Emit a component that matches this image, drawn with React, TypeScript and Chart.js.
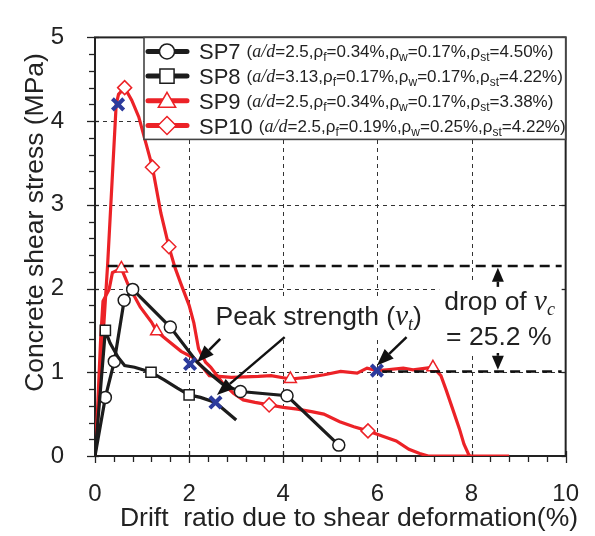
import React, { useEffect, useRef } from 'react';
import { Chart, registerables } from 'chart.js';

Chart.register(...registerables);

const FONT = '"Liberation Sans", Arial, Helvetica, sans-serif';
const SERIF = '"Liberation Serif", "Times New Roman", serif';
const RED = '#ec2227';
const BLACK = '#1c1c1c';
const BLUE = '#2c3b9d';

// ---- Series data (drift ratio %, shear stress MPa) ----
const sp7X = [0, 0.22, 0.41, 0.62, 0.8, 1.6, 2.17, 2.45, 2.73, 3.09, 4.08, 5.18];
const sp7Y = [0, 0.7, 1.13, 1.86, 1.99, 1.54, 1.12, 0.98, 0.85, 0.77, 0.72, 0.13];
const sp7Markers = [1, 2, 3, 4, 5, 9, 10, 11];

const sp8X = [0, 0.22, 0.32, 0.49, 0.63, 0.84, 1.19, 1.47, 1.75, 2.0, 2.24, 2.56, 3.0];
const sp8Y = [0, 1.5, 1.35, 1.18, 1.08, 1.06, 1.0, 0.91, 0.81, 0.73, 0.7, 0.64, 0.43];
const sp8Markers = [1, 6, 9];

const sp9X = [0, 0.05, 0.12, 0.17, 0.3, 0.37, 0.56, 0.7, 0.96, 1.2, 1.31, 1.5, 1.83, 2.1, 2.3, 2.43, 2.9, 3.47, 3.74, 4.15, 4.52, 4.87, 5.22, 5.57, 5.78, 6.0, 6.2, 6.55, 6.76, 7.04, 7.18, 7.35, 7.46, 7.6, 7.74, 7.84, 7.93, 7.96];
const sp9Y = [0, 0.5, 1.4, 1.85, 1.99, 2.19, 2.24, 2.05, 1.78, 1.6, 1.49, 1.4, 1.25, 1.17, 1.05, 0.96, 0.94, 0.95, 0.96, 0.92, 0.94, 0.97, 1.01, 0.99, 1.05, 1.02, 1.03, 1.05, 1.03, 1.05, 1.06, 0.96, 0.79, 0.56, 0.33, 0.14, 0.03, 0];
const sp9Markers = [6, 10, 19, 30];

const sp10X = [0, 0.1, 0.27, 0.45, 0.5, 0.63, 0.78, 0.93, 1.22, 1.4, 1.57, 1.7, 1.83, 2.0, 2.1, 2.2, 2.35, 2.46, 2.7, 2.94, 3.15, 3.4, 3.7, 4.0, 4.3, 4.6, 4.86, 5.2, 5.5, 5.8, 6.1, 6.4, 6.67, 6.9, 7.08, 8.8];
const sp10Y = [0, 0.8, 2.3, 4.2, 4.32, 4.4, 4.25, 4.05, 3.45, 2.9, 2.5, 2.25, 2.05, 1.8, 1.59, 1.28, 1.12, 1.06, 0.88, 0.75, 0.67, 0.64, 0.61, 0.58, 0.56, 0.53, 0.5, 0.41, 0.35, 0.3, 0.24, 0.18, 0.08, 0.03, 0, 0];
const sp10Markers = [5, 8, 10, 22, 29];

// Peak strength points (blue crosses)
const peakX = [0.49, 2.02, 2.56, 5.99];
const peakY = [4.2, 1.1, 0.64, 1.02];

// Axis ticks
const xTicks = [0, 2, 4, 6, 8, 10];
const yTicks = [0, 1, 2, 3, 4, 5];
const xGrid = [2, 4, 6, 8];
const yGrid = [1, 2, 3, 4];

// Legend content
const seriesNames = ['SP7', 'SP8', 'SP9', 'SP10'];
const seriesColors = [BLACK, BLACK, RED, RED];
const seriesStyles = ['circle', 'rect', 'triangle', 'rectRot'];
const adRatio = ['2.5', '3.13', '2.5', '2.5'];
const rhoF = ['0.34', '0.17', '0.34', '0.19'];
const rhoW = ['0.17', '0.17', '0.17', '0.25'];
const rhoSt = ['4.50', '4.22', '3.38', '4.22'];

// Annotations
const vcPeakLevel = 2.27;
const vcPeakStart = 0.27;
const vcDropLevel = 1.01;
const vcDropStart = 6.1;
const dropArrowX = 8.56;
const dropArrowUp = [2.02, 2.25];
const dropArrowDown = [1.23, 1.03];
const peakArrowTails = [[2.66, 1.4], [4.03, 1.42], [6.62, 1.42]];
const peakArrowTips = [[2.17, 1.12], [2.59, 0.73], [5.99, 1.08]];
const peakLabelPos = [2.56, 1.57];
const dropLabelPos = [7.42, 1.74];
const dropValuePos = [7.46, 1.32];
const dropValueText = '= 25.2 %';

type Seg = { t: string; f: string; dy?: number };

function segWidth(ctx: CanvasRenderingContext2D, segs: Seg[]) {
  let w = 0;
  for (const s of segs) {
    ctx.font = s.f;
    w += ctx.measureText(s.t).width;
  }
  return w;
}

function drawSegs(ctx: CanvasRenderingContext2D, x: number, y: number, segs: Seg[]) {
  let cx = x;
  ctx.textBaseline = 'alphabetic';
  ctx.textAlign = 'left';
  for (const s of segs) {
    ctx.font = s.f;
    ctx.fillText(s.t, cx, y + (s.dy || 0));
    cx += ctx.measureText(s.t).width;
  }
  return cx - x;
}

function arrow(ctx: CanvasRenderingContext2D, x1: number, y1: number, x2: number, y2: number, head: number, half: number) {
  const a = Math.atan2(y2 - y1, x2 - x1);
  const bx = x2 - head * Math.cos(a);
  const by = y2 - head * Math.sin(a);
  ctx.beginPath();
  ctx.moveTo(x1, y1);
  ctx.lineTo(bx, by);
  ctx.stroke();
  ctx.beginPath();
  ctx.moveTo(x2, y2);
  ctx.lineTo(bx + half * Math.sin(a), by - half * Math.cos(a));
  ctx.lineTo(bx - half * Math.sin(a), by + half * Math.cos(a));
  ctx.closePath();
  ctx.fill();
}

function marker(ctx: CanvasRenderingContext2D, style: string, x: number, y: number, r: number) {
  ctx.beginPath();
  if (style === 'circle') {
    ctx.arc(x, y, r, 0, Math.PI * 2);
  } else if (style === 'rect') {
    const s = r / Math.SQRT2;
    ctx.rect(x - s, y - s, 2 * s, 2 * s);
  } else if (style === 'triangle') {
    for (let k = 0; k < 3; k++) {
      const a = (k * 2 * Math.PI) / 3;
      const vx = x + Math.sin(a) * r;
      const vy = y - Math.cos(a) * r;
      if (k === 0) ctx.moveTo(vx, vy);
      else ctx.lineTo(vx, vy);
    }
    ctx.closePath();
  } else {
    ctx.moveTo(x, y - r);
    ctx.lineTo(x + r, y);
    ctx.lineTo(x, y + r);
    ctx.lineTo(x - r, y);
    ctx.closePath();
  }
  ctx.fill();
  ctx.stroke();
}

const peakSegs: Seg[] = [
  { t: 'Peak strength (', f: `26.5px ${FONT}` },
  { t: 'ν', f: `italic 29px ${SERIF}` },
  { t: 't', f: `italic 18px ${SERIF}`, dy: 5 },
  { t: ')', f: `26.5px ${FONT}` },
];
const dropSegs: Seg[] = [
  { t: 'drop of ', f: `26.5px ${FONT}` },
  { t: 'ν', f: `italic 29px ${SERIF}` },
  { t: 'c', f: `italic 18px ${SERIF}`, dy: 5 },
];
const dropValueSegs: Seg[] = [{ t: dropValueText, f: `26.5px ${FONT}` }];

const decorPlugin = {
  id: 'decor',
  beforeDatasetsDraw(chart: any) {
    const ctx: CanvasRenderingContext2D = chart.ctx;
    const xs = chart.scales.x;
    const ys = chart.scales.y;
    const px = (v: number) => xs.getPixelForValue(v);
    const py = (v: number) => ys.getPixelForValue(v);
    const ca = chart.chartArea;
    ctx.save();
    // thin dashed grid
    ctx.strokeStyle = '#333';
    ctx.lineWidth = 1;
    ctx.setLineDash([4, 4]);
    for (const g of xGrid) {
      ctx.beginPath();
      ctx.moveTo(Math.round(px(g)) + 0.5, ca.bottom);
      ctx.lineTo(Math.round(px(g)) + 0.5, ca.top);
      ctx.stroke();
    }
    for (const g of yGrid) {
      ctx.beginPath();
      ctx.moveTo(ca.left, Math.round(py(g)) + 0.5);
      ctx.lineTo(ca.right, Math.round(py(g)) + 0.5);
      ctx.stroke();
    }
    ctx.setLineDash([]);
    // white boxes behind annotation texts
    ctx.fillStyle = '#fff';
    const pw = segWidth(ctx, peakSegs);
    const pX = px(peakLabelPos[0]);
    const pY = py(peakLabelPos[1]);
    ctx.fillRect(pX - 5, pY - 28, pw + 10, 43);
    const dX = px(dropLabelPos[0]);
    const dY = py(dropLabelPos[1]);
    const vY = py(dropValuePos[1]);
    ctx.fillRect(dX - 5, dY - 30, ca.right - 3 - (dX - 5), vY + 7 - (dY - 30));
    // frame
    ctx.strokeStyle = '#222';
    ctx.lineWidth = 2;
    ctx.strokeRect(ca.left, ca.top, ca.right - ca.left, ca.bottom - ca.top);
    ctx.lineWidth = 1.3;
    // y ticks
    for (let i = 0; i <= 25; i++) {
      const v = i * 0.2;
      const y = Math.round(py(v)) + 0.5;
      const major = i % 5 === 0;
      ctx.beginPath();
      ctx.moveTo(ca.left - (major ? 8 : 6), y);
      ctx.lineTo(ca.left + (major ? 4 : 0), y);
      ctx.stroke();
      if (major) {
        ctx.beginPath();
        ctx.moveTo(ca.right - 4, y);
        ctx.lineTo(ca.right, y);
        ctx.stroke();
      }
    }
    // x ticks
    for (let i = 0; i <= 25; i++) {
      const v = i * 0.4;
      const x = Math.round(px(v)) + 0.5;
      const major = i % 5 === 0;
      ctx.beginPath();
      ctx.moveTo(x, ca.bottom + (major ? 7 : 6));
      ctx.lineTo(x, ca.bottom - (major ? 5 : 0));
      ctx.stroke();
    }
    ctx.restore();
  },
  afterDatasetsDraw(chart: any) {
    const ctx: CanvasRenderingContext2D = chart.ctx;
    const xs = chart.scales.x;
    const ys = chart.scales.y;
    const px = (v: number) => xs.getPixelForValue(v);
    const py = (v: number) => ys.getPixelForValue(v);
    const ca = chart.chartArea;
    ctx.save();
    // thick dashed reference lines
    ctx.strokeStyle = '#111';
    ctx.lineWidth = 2.6;
    ctx.setLineDash([10, 6]);
    ctx.beginPath();
    ctx.moveTo(px(vcPeakStart), py(vcPeakLevel));
    ctx.lineTo(ca.right - 4, py(vcPeakLevel));
    ctx.stroke();
    ctx.beginPath();
    ctx.moveTo(px(vcDropStart), py(vcDropLevel));
    ctx.lineTo(ca.right - 4, py(vcDropLevel));
    ctx.stroke();
    ctx.setLineDash([]);
    // drop arrows
    ctx.fillStyle = '#111';
    ctx.lineWidth = 2.5;
    const ax = px(dropArrowX);
    arrow(ctx, ax, py(dropArrowUp[0]), ax, py(dropArrowUp[1]), 14, 6);
    arrow(ctx, ax, py(dropArrowDown[0]), ax, py(dropArrowDown[1]), 14, 6);
    // peak arrows
    for (let i = 0; i < peakArrowTails.length; i++) {
      const t = peakArrowTails[i];
      const h = peakArrowTips[i];
      arrow(ctx, px(t[0]), py(t[1]), px(h[0]), py(h[1]), 17, 6.5);
    }
    // annotation texts
    ctx.fillStyle = '#222';
    drawSegs(ctx, px(peakLabelPos[0]), py(peakLabelPos[1]), peakSegs);
    drawSegs(ctx, px(dropLabelPos[0]), py(dropLabelPos[1]), dropSegs);
    drawSegs(ctx, px(dropValuePos[0]), py(dropValuePos[1]), dropValueSegs);

    // legend
    const bl = ca.left + 49;
    const bt = ca.top;
    const br = ca.right;
    const bb = ca.top + 102;
    ctx.fillStyle = '#fff';
    ctx.fillRect(bl, bt, br - bl, bb - bt);
    ctx.strokeStyle = '#444';
    ctx.lineWidth = 1.6;
    ctx.strokeRect(bl, bt, br - bl, bb - bt);
    for (let i = 0; i < seriesNames.length; i++) {
      const cy = bt + 14 + i * 24.7;
      const col = seriesColors[i];
      ctx.strokeStyle = col;
      ctx.lineWidth = 5;
      ctx.lineCap = 'round';
      ctx.beginPath();
      ctx.moveTo(bl + 4, cy);
      ctx.lineTo(bl + 43, cy);
      ctx.stroke();
      ctx.lineCap = 'butt';
      ctx.fillStyle = '#fff';
      ctx.lineWidth = 1.5;
      const st = seriesStyles[i];
      const r = st === 'circle' ? 7.5 : st === 'rect' ? 10 : st === 'triangle' ? 10 : 9;
      marker(ctx, st, bl + 23, cy + (st === 'triangle' ? 1.5 : 0), r);
      ctx.fillStyle = '#222';
      const lw = drawSegs(ctx, bl + 55, cy + 8, [{ t: seriesNames[i], f: `22px ${FONT}` }]);
      const sub = `12px ${FONT}`;
      const main = `17px ${FONT}`;
      drawSegs(ctx, bl + 55 + lw + 6, cy + 6, [
        { t: '(', f: main },
        { t: 'a/d', f: `italic 18px ${SERIF}` },
        { t: `=${adRatio[i]},ρ`, f: main },
        { t: 'f', f: sub, dy: 4 },
        { t: `=${rhoF[i]}%,ρ`, f: main },
        { t: 'w', f: sub, dy: 4 },
        { t: `=${rhoW[i]}%,ρ`, f: main },
        { t: 'st', f: sub, dy: 4 },
        { t: `=${rhoSt[i]}%)`, f: main },
      ]);
    }

    // axis titles
    ctx.fillStyle = '#222';
    ctx.textAlign = 'center';
    ctx.textBaseline = 'alphabetic';
    ctx.font = `26.5px ${FONT}`;
    ctx.fillText('Drift  ratio due to shear deformation(%)', 349, 526);
    ctx.save();
    ctx.translate(43, py(2.79));
    ctx.rotate(-Math.PI / 2);
    ctx.font = `26.5px ${FONT}`;
    ctx.fillText('Concrete shear stress (MPa)', 0, 0);
    ctx.restore();
    ctx.restore();
  },
};

function mk(xsArr: number[], ysArr: number[]) {
  return xsArr.map((x, i) => ({ x, y: ysArr[i] }));
}
function radii(n: number, idx: number[], r: number) {
  return Array.from({ length: n }, (_, i) => (idx.includes(i) ? r : 0));
}

export default function App() {
  const ref = useRef<HTMLCanvasElement | null>(null);
  useEffect(() => {
    if (!ref.current) return;
    const line = (label: string, xsArr: number[], ysArr: number[], idx: number[], color: string, style: string, r: number) => ({
      label,
      data: mk(xsArr, ysArr),
      borderColor: color,
      borderWidth: 3.2,
      tension: 0,
      fill: false,
      pointStyle: style,
      pointRadius: radii(xsArr.length, idx, r),
      pointBackgroundColor: '#fff',
      pointBorderColor: color,
      pointBorderWidth: 1.5,
    });
    const chart = new Chart(ref.current, {
      type: 'line',
      data: {
        datasets: [
          {
            label: 'Peak',
            data: mk(peakX, peakY),
            showLine: false,
            pointStyle: 'crossRot',
            pointRadius: 8,
            pointBorderWidth: 4,
            pointBorderColor: BLUE,
            borderColor: BLUE,
          } as any,
          line('SP8', sp8X, sp8Y, sp8Markers, BLACK, 'rect', 7.2),
          line('SP7', sp7X, sp7Y, sp7Markers, BLACK, 'circle', 6),
          line('SP10', sp10X, sp10Y, sp10Markers, RED, 'rectRot', 7),
          line('SP9', sp9X, sp9Y, sp9Markers, RED, 'triangle', 7),
        ],
      },
      options: {
        animation: false,
        responsive: false,
        devicePixelRatio: 1,
        layout: { padding: { left: 0, top: 18, right: 24, bottom: 0 } },
        plugins: { legend: { display: false }, tooltip: { enabled: false } },
        scales: {
          x: {
            type: 'linear',
            min: 0,
            max: 10,
            afterBuildTicks: (s: any) => {
              s.ticks = xTicks.map((v) => ({ value: v }));
            },
            ticks: { font: { size: 24, family: FONT }, color: '#222', padding: 16, maxRotation: 0 },
            grid: { display: false },
            border: { display: false },
            afterFit: (s: any) => {
              s.height = 80;
            },
          },
          y: {
            type: 'linear',
            min: 0,
            max: 5,
            afterBuildTicks: (s: any) => {
              s.ticks = yTicks.map((v) => ({ value: v }));
            },
            ticks: { font: { size: 24, family: FONT }, color: '#222', padding: 23 },
            grid: { display: false },
            border: { display: false },
            afterFit: (s: any) => {
              s.width = 95;
            },
          },
        },
      } as any,
      plugins: [decorPlugin],
    });
    return () => chart.destroy();
  }, []);
  return (
    <div style={{ position: 'absolute', left: 0, top: 0, width: 595, height: 536, background: '#fff' }}>
      <canvas ref={ref} width={595} height={536} style={{ display: 'block', width: 595, height: 536 }} />
    </div>
  );
}
